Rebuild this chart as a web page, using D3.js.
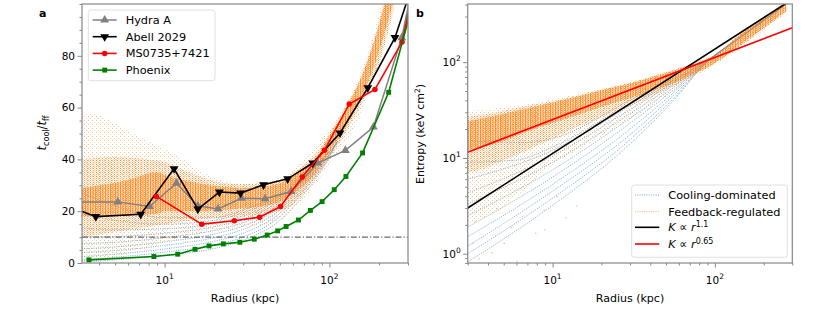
<!DOCTYPE html>
<html><head><meta charset="utf-8">
<script src="https://cdn.jsdelivr.net/npm/d3@7"></script>
<style>body{margin:0;background:#fff} svg{font-family:"DejaVu Sans",sans-serif}</style>
</head><body><svg id="c" width="830" height="310"></svg>
<script>
// ---------- DATA ----------
// panel a: t_cool / t_ff profiles (radius kpc, ratio)
const hydraA   = [[3.0,23.6],[5.2,23.6],[8.1,21.8],[11.8,30.8],[15.9,22.1],[21.1,20.9],[29.2,25.0],[40.7,24.8],[58.6,27.6],[85,38.6],[125,43.5],[185,52.5],[275,87],[310,103]];
const abell2029= [[3.0,20.4],[3.82,17.9],[7.16,18.8],[11.4,36.4],[15.9,20.8],[21.5,27.4],[28.9,27.0],[39.8,30.2],[55.8,32.5],[79.3,38.6],[116,50.2],[171,67.6],[250,87],[310,105]];
const ms0735   = [[8.9,25.7],[16.8,15.0],[26.5,16.3],[37.7,17.7],[50.5,21.8],[68.4,33.2],[93.3,43.5],[132,61.4],[189,67],[276,85.3],[310,100]];
const phoenix  = [[3.47,1.2],[8.6,2.5],[12.0,3.4],[15.3,5.3],[18.6,6.6],[22.7,7.4],[28.6,8.0],[35.0,9.2],[41.9,10.8],[48.5,12.4],[54.6,14.1],[64.9,16.6],[76.7,20.3],[90.3,23.7],[107,28.3],[126,33.4],[159,42.5],[229,65.9],[305,95]];
const threshold = 10;
const seriesNames = ["Hydra A","Abell 2029","MS0735+7421","Phoenix"];

// panel a: cooling-dominated simulation profiles (blue)
const blueA = [
  [[3.15,0.3],[5,1.2],[10,3.0],[20,5.6],[30,8.8],[50,16.5],[70,26.5],[100,41],[112,47]],
  [[3.15,1.2],[5,2.2],[10,4.2],[20,7],[30,10],[50,18],[70,28],[100,41.5],[112,47]],
  [[3.15,2.5],[5,3.4],[10,5.4],[20,8.4],[30,11.5],[50,19.2],[70,29],[100,42],[112,47]],
  [[3.15,4],[5,4.8],[10,6.8],[20,9.8],[30,13],[50,20.5],[70,30],[100,42],[112,47]],
  [[3.15,5.5],[5,6.2],[10,8.2],[20,11.2],[30,14.3],[50,21.6],[70,31],[100,42.5],[112,47]],
  [[3.15,7.5],[5,8],[10,9.8],[20,12.6],[30,15.6],[50,22.8],[70,32],[100,43]],
  [[3.15,10],[5,10.2],[10,11.5],[20,14],[30,17],[50,24],[70,32.5],[100,43]],
  [[3.15,13.5],[5,12.8],[10,13.2],[20,15.3],[30,18.2],[50,25],[70,33],[100,43]],
  [[3.15,19],[5,16.5],[10,15],[20,16.5],[30,19.5],[50,26],[70,34]],
  [[3.15,27],[5,22],[10,17.5],[20,17.5],[30,20.5],[50,27],[70,35]]
];
// panel a: feedback-regulated point cloud envelopes (radius, low, high)
const orangeA_sparse = [[3.15,0,58],[4,0,57],[5,2,54],[6,4,51],[8,6,47],[10,8,44],[13,10,40],[17,11.5,35],[22,12.5,32],[30,13.5,30.5],[40,15,31],[55,18,34],[71,25,40],[85,32,46],[100,38,52],[125,47,61],[141,52,67],[174,67,82],[202,78,97],[244,100,115]];
const orangeA_med    = [[3.15,10,40],[5,12,41],[8,14,40],[10,15,39],[13,16,36],[17,17,33],[22,17.5,31],[30,18,30.5],[40,19,31],[55,21,33],[70,27,38],[85,34,43],[100,40,50],[130,52,62],[170,66,78],[210,81,98],[245,97,116]];
const orangeA_dense  = [[3.15,18,29],[6,18.5,32],[9,19,35],[10,20,34],[13,20,32],[17,20,30.5],[22,20.5,29.5],[30,21,29],[40,22,29.5],[55,25,32],[70,30,37],[85,36,41.5],[100,43,49],[130,54,61],[170,69,78],[210,86,97],[245,101,116]];

// panel b: entropy (radius kpc, keV cm^2)
const fitSteep   = [[3,3.0],[300,453]];   // K ∝ r^1.1
const fitShallow = [[3,11.5],[300,229]];  // K ∝ r^0.65
const blueB = [
  [[3,0.82],[10,3.2],[30,14],[60,46],[85,92],[150,190],[275,400]],
  [[3,1.0],[10,3.8],[30,15.5],[60,48],[85,92.5],[150,190],[275,400]],
  [[3,1.2],[10,4.5],[30,17.5],[60,51],[85,93],[150,191],[275,401]],
  [[3,1.5],[10,5.3],[30,20],[60,54],[85,94],[150,192],[275,402]],
  [[3,1.9],[10,6.3],[30,23],[60,57],[85,95],[150,194],[275,404]],
  [[3,2.5],[10,7.5],[30,26],[60,60],[85,96],[150,196],[275,406]],
  [[3,3.3],[10,9],[30,29],[60,63],[85,97],[150,198]],
  [[3,4.3],[10,10.5],[30,32],[60,66],[85,98]],
  [[3,6],[10,12],[30,35],[60,68],[85,99]],
  [[3,9],[6,9.5],[10,13],[30,37],[60,70],[85,100]],
  [[3,15],[7,14.5],[10,16],[30,40],[60,72]]
];
const orangeB_sparse = [[3,2,31],[4,2.5,32],[5,3,34],[6,4,35],[8,6,38],[10,8.5,41],[13,11,45],[18,15,50],[25,21,57],[35,29,66],[50,44,79],[65,60,91],[80,75,103],[100,94,122],[150,150,213],[200,215,298],[275,330,440]];
const orangeB_med    = [[3,7,27],[4,8,29],[5,9.5,31],[7,12,35],[10,16,39],[15,22,46],[22,28,54],[30,35,61],[45,48,75],[60,60,87],[80,78,101],[100,96,119],[150,155,210],[200,222,292],[275,335,430]];
const orangeB_dense  = [[3,12,24],[5,15,29],[7,19,33],[10,23,38],[15,29,45],[22,36,53],[30,42,60],[45,53,73],[60,64,85],[80,80,100],[100,98,118],[150,160,208],[200,228,290],[275,340,425]];
const orangeB_out = [[4.2,1.04],[6.0,0.84],[8.8,2.9],[12,2.4],[8.9,1.8],[3.5,0.9],[5,1.3],[7.8,1.66],[3.3,2.2],[4.5,3.0],[10.6,4.0],[14,3.2],[6.5,2.5],[3.2,1.3],[5.5,1.9]];

// ticks
const xMajor = [10,100];
const xMinorA = [4,5,6,7,8,9,20,30,40,50,60,70,80,90,200,300];
const xMinorB = [3,4,5,6,7,8,9,20,30,40,50,60,70,80,90,200,300];
const yMajorA = [0,20,40,60,80];
const yMinorA = [5,10,15,25,30,35,45,50,55,65,70,75,85,90,95,100];
const yMajorB = [1,10,100];
const yMinorB = [0.8,0.9,2,3,4,5,6,7,8,9,20,30,40,50,60,70,80,90,200,300,400];

// ---------- DRAW ----------
const svg = d3.select("#c");
const C = {gray:"#808080", black:"#000000", red:"#ff0000", green:"#008000", orange:"#ff7f0e", blue:"#1f77b4", spine:"#888"};
const A = {x0:82, x1:408, y0:4, y1:263};
const B = {x0:467.7, x1:792.3, y0:4, y1:263};
const xA = d3.scaleLog().domain([3.15,300]).range([A.x0,A.x1]);
const yA = d3.scaleLinear().domain([0,100]).range([A.y1,A.y0]);
const xB = d3.scaleLog().domain([3,300]).range([B.x0,B.x1]);
const yB = d3.scaleLog().domain([0.8,405]).range([B.y1,B.y0]);

const defs = svg.append("defs");
function pat(id,w,h,dots){
  const p = defs.append("pattern").attr("id",id).attr("patternUnits","userSpaceOnUse").attr("width",w).attr("height",h);
  dots.forEach(d=>p.append("rect").attr("x",d[0]).attr("y",d[1]).attr("width",d[2]).attr("height",d[3]).attr("fill",C.orange).attr("opacity",d[4]));
}
pat("oSparse",4,4,[[0,0,1,1,0.5],[2,2,1,1,0.35]]);
pat("oMed",3,2,[[0,0,1,1,0.7],[1.5,1,1,1,0.55]]);
pat("oDense",2.5,1.5,[[0,0,1.1,1.5,0.85],[1.3,0.5,0.9,0.7,0.5]]);
[["clipA",A],["clipB",B]].forEach(([id,P])=>defs.append("clipPath").attr("id",id).append("rect")
  .attr("x",P.x0).attr("y",P.y0).attr("width",P.x1-P.x0).attr("height",P.y1-P.y0));

function panelAxes(P,x,y,xMinor,yMajor,yMinor,logY){
  const g = svg.append("g");
  const tk = (s)=>{s.select(".domain").remove(); s.selectAll("line").attr("stroke",C.spine).attr("stroke-width",1);};
  g.append("g").attr("transform",`translate(0,${P.y1})`).call(d3.axisBottom(x).tickValues(xMajor).tickSize(4.5).tickFormat("")).call(tk);
  g.append("g").attr("transform",`translate(0,${P.y1})`).call(d3.axisBottom(x).tickValues(xMinor).tickSize(2.5).tickFormat("")).call(tk);
  g.append("g").attr("transform",`translate(${P.x0},0)`).call(d3.axisLeft(y).tickValues(yMajor).tickSize(4.5).tickFormat("")).call(tk);
  g.append("g").attr("transform",`translate(${P.x0},0)`).call(d3.axisLeft(y).tickValues(yMinor.filter(v=>y(v)>=P.y0-0.5&&y(v)<=P.y1+0.5)).tickSize(2.5).tickFormat("")).call(tk);
  xMajor.forEach(v=>{
    const t = g.append("text").attr("x",x(v)).attr("y",P.y1+20.5).attr("text-anchor","middle").attr("font-size",10.5);
    t.append("tspan").text("10");
    t.append("tspan").attr("dy",-4.5).attr("font-size",7.5).text(Math.round(Math.log10(v)));
  });
  yMajor.forEach(v=>{
    const t = g.append("text").attr("x",P.x0-7).attr("y",y(v)+3.8).attr("text-anchor","end").attr("font-size",10.5);
    if(logY){ t.append("tspan").text("10"); t.append("tspan").attr("dy",-4.5).attr("font-size",7.5).text(Math.round(Math.log10(v))); }
    else t.text(v);
  });
  g.append("text").attr("x",(P.x0+P.x1)/2).attr("y",302).attr("text-anchor","middle").attr("font-size",11).text("Radius (kpc)");
  return g;
}
function frame(P){
  svg.append("rect").attr("x",P.x0).attr("y",P.y0).attr("width",P.x1-P.x0).attr("height",P.y1-P.y0)
    .attr("fill","none").attr("stroke",C.spine).attr("stroke-width",1.2);
}
function bands(g,data,x,y,patId){
  g.append("path").datum(data).attr("fill",`url(#${patId})`)
   .attr("d",d3.area().x(d=>x(d[0])).y0(d=>y(Math.max(d[1],0.5))).y1(d=>y(d[2])).curve(d3.curveMonotoneX));
}
function dotted(g,data,x,y,color){
  g.append("path").datum(data).attr("fill","none").attr("stroke",color).attr("stroke-width",1)
   .attr("stroke-dasharray","1,1.3").attr("opacity",0.6)
   .attr("d",d3.line().x(d=>x(d[0])).y(d=>y(d[1])).curve(d3.curveMonotoneX));
}
const markerSpecs = [
  {data:hydraA, color:C.gray, type:d3.symbolTriangle, size:34, rot:0, w:1.5},
  {data:abell2029, color:C.black, type:d3.symbolTriangle, size:34, rot:180, w:1.6},
  {data:ms0735, color:C.red, type:d3.symbolCircle, size:24, rot:0, w:1.6},
  {data:phoenix, color:C.green, type:d3.symbolSquare, size:24, rot:0, w:1.6}
];

// ---------------- Panel a ----------------
panelAxes(A,xA,yA,xMinorA,yMajorA,yMinorA,false);
const gA = svg.append("g").attr("clip-path","url(#clipA)");
blueA.forEach(p=>dotted(gA,p,xA,yA,C.blue));
bands(gA,orangeA_sparse,xA,yA,"oSparse");
bands(gA,orangeA_med,xA,yA,"oMed");
bands(gA,orangeA_dense,xA,yA,"oDense");
gA.append("line").attr("x1",A.x0).attr("x2",A.x1).attr("y1",yA(threshold)).attr("y2",yA(threshold))
  .attr("stroke","#444").attr("stroke-width",1).attr("stroke-dasharray","6,2,1.2,2");
markerSpecs.forEach(s=>{
  gA.append("path").datum(s.data).attr("fill","none").attr("stroke",s.color).attr("stroke-width",s.w)
    .attr("d",d3.line().x(d=>xA(d[0])).y(d=>yA(d[1])));
  gA.selectAll(null).data(s.data).join("path")
    .attr("transform",d=>`translate(${xA(d[0])},${yA(d[1])}) rotate(${s.rot})`)
    .attr("d",d3.symbol().type(s.type).size(s.size)).attr("fill",s.color);
});
frame(A);
{
  const t = svg.append("text").attr("transform","translate(46,133) rotate(-90)").attr("text-anchor","middle").attr("font-size",11.5);
  t.append("tspan").attr("font-style","italic").text("t");
  t.append("tspan").attr("font-size",8).attr("dy",3).text("cool");
  t.append("tspan").attr("dy",-3).text("/");
  t.append("tspan").attr("font-style","italic").text("t");
  t.append("tspan").attr("font-size",8).attr("dy",3).text("ff");
}
svg.append("text").attr("x",39).attr("y",17).attr("font-size",11).attr("font-weight","bold").text("a");
{
  const lg = svg.append("g");
  lg.append("rect").attr("x",88.3).attr("y",10).attr("width",126.7).attr("height",70.7).attr("rx",2.5)
    .attr("fill","#fff").attr("fill-opacity",0.8).attr("stroke","#d8d8d8").attr("stroke-width",0.8);
  markerSpecs.forEach((s,i)=>{
    const yy = 20 + i*16.7;
    lg.append("line").attr("x1",92.7).attr("x2",116.7).attr("y1",yy).attr("y2",yy).attr("stroke",s.color).attr("stroke-width",s.w);
    lg.append("path").attr("transform",`translate(104.7,${yy}) rotate(${s.rot})`).attr("d",d3.symbol().type(s.type).size(s.size)).attr("fill",s.color);
    lg.append("text").attr("x",125.7).attr("y",yy+4).attr("font-size",11.3).text(seriesNames[i]);
  });
}

// ---------------- Panel b ----------------
panelAxes(B,xB,yB,xMinorB,yMajorB,yMinorB,true);
const gB = svg.append("g").attr("clip-path","url(#clipB)");
blueB.forEach(p=>dotted(gB,p,xB,yB,C.blue));
bands(gB,orangeB_sparse,xB,yB,"oSparse");
bands(gB,orangeB_med,xB,yB,"oMed");
bands(gB,orangeB_dense,xB,yB,"oDense");
gB.selectAll(null).data(orangeB_out).join("rect").attr("x",d=>xB(d[0])).attr("y",d=>yB(d[1])).attr("width",1.2).attr("height",1.2)
  .attr("fill",C.orange).attr("opacity",0.6);
[[fitSteep,C.black],[fitShallow,C.red]].forEach(([d,c])=>{
  gB.append("path").datum(d).attr("fill","none").attr("stroke",c).attr("stroke-width",1.6)
    .attr("d",d3.line().x(p=>xB(p[0])).y(p=>yB(p[1])));
});
frame(B);
{
  const t = svg.append("text").attr("transform","translate(424,134) rotate(-90)").attr("text-anchor","middle").attr("font-size",11);
  t.append("tspan").text("Entropy (keV cm");
  t.append("tspan").attr("font-size",7.5).attr("dy",-4.5).text("2");
  t.append("tspan").attr("dy",4.5).text(")");
}
svg.append("text").attr("x",416).attr("y",17).attr("font-size",11).attr("font-weight","bold").text("b");
{
  const lg = svg.append("g");
  lg.append("rect").attr("x",631.7).attr("y",185).attr("width",155.6).attr("height",72.3).attr("rx",2.5)
    .attr("fill","#fff").attr("fill-opacity",0.8).attr("stroke","#d8d8d8").attr("stroke-width",0.8);
  const ys = [195,211.7,227.3,244];
  [[C.blue,true],[C.orange,true],[C.black,false],[C.red,false]].forEach(([c,dot],i)=>{
    const l = lg.append("line").attr("x1",635).attr("x2",659.3).attr("y1",ys[i]).attr("y2",ys[i]).attr("stroke",c);
    if(dot) l.attr("stroke-width",1).attr("stroke-dasharray","1,1.3").attr("opacity",0.6);
    else l.attr("stroke-width",1.6);
  });
  lg.append("text").attr("x",668.3).attr("y",ys[0]+4).attr("font-size",11.3).text("Cooling-dominated");
  lg.append("text").attr("x",668.3).attr("y",ys[1]+4).attr("font-size",11.3).text("Feedback-regulated");
  [["1.1",2],["0.65",3]].forEach(([e,i])=>{
    const t = lg.append("text").attr("x",668.3).attr("y",ys[i]+4).attr("font-size",11.3);
    t.append("tspan").attr("font-style","italic").text("K");
    t.append("tspan").text(" \u221D ");
    t.append("tspan").attr("font-style","italic").text("r");
    t.append("tspan").attr("font-size",8).attr("dy",-4.5).text(e);
  });
}
</script></body></html>
